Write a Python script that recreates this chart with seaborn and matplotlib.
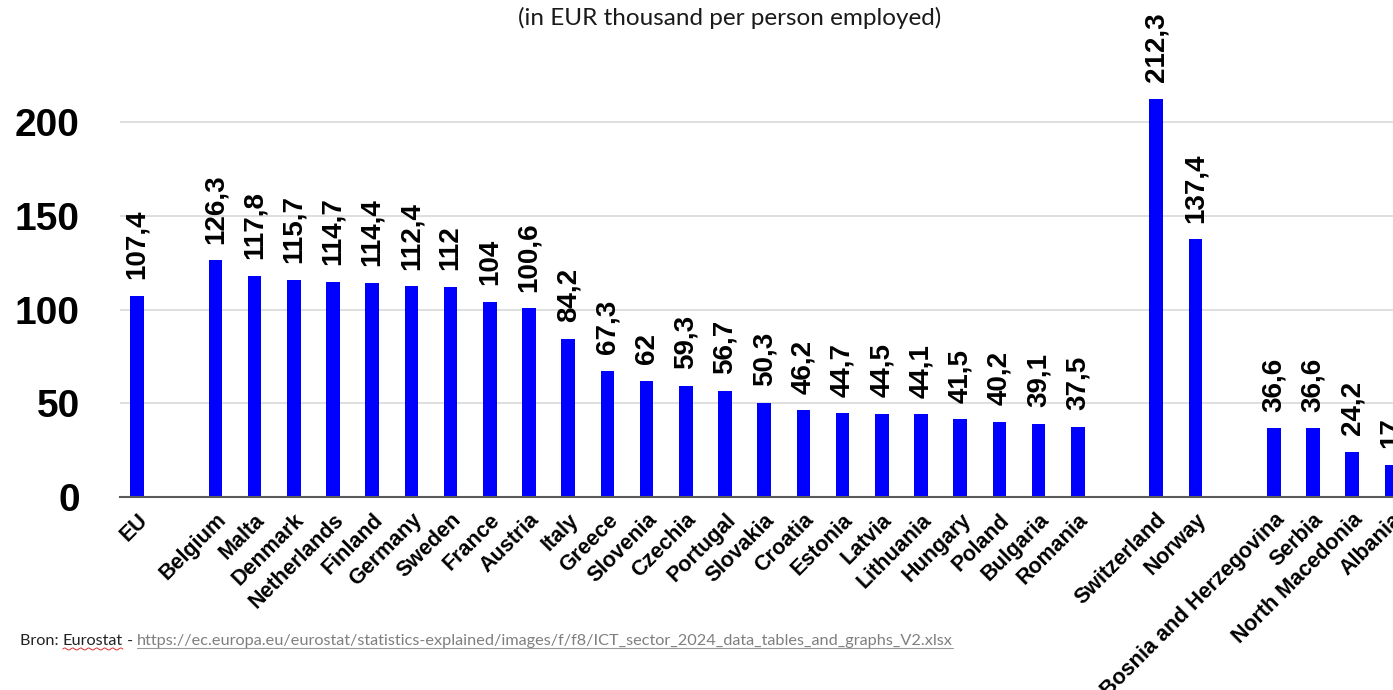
import matplotlib
matplotlib.use("Agg")
import matplotlib.pyplot as plt
import seaborn as sns
import pandas as pd
import numpy as np
from matplotlib.lines import Line2D

# ---- data ----
eu_names = ["EU"]
eu_values = [107.4]
ms_names = ["Belgium", "Malta", "Denmark", "Netherlands", "Finland", "Germany",
            "Sweden", "France", "Austria", "Italy", "Greece", "Slovenia", "Czechia",
            "Portugal", "Slovakia", "Croatia", "Estonia", "Latvia", "Lithuania",
            "Hungary", "Poland", "Bulgaria", "Romania"]
ms_values = [126.3, 117.8, 115.7, 114.7, 114.4, 112.4, 112, 104, 100.6, 84.2,
             67.3, 62, 59.3, 56.7, 50.3, 46.2, 44.7, 44.5, 44.1, 41.5, 40.2, 39.1, 37.5]
efta_names = ["Switzerland", "Norway"]
efta_values = [212.3, 137.4]
cand_names = ["Bosnia and Herzegovina", "Serbia", "North Macedonia", "Albania"]
cand_values = [36.6, 36.6, 24.2, 17]
y_ticks = [0, 50, 100, 150, 200]

title = "(in EUR thousand per person employed)"
source_parts = ["Bron: ", "Eurostat", " - "]
source_url = "https://ec.europa.eu/eurostat/statistics-explained/images/f/f8/ICT_sector_2024_data_tables_and_graphs_V2.xlsx"

names = eu_names + ms_names + efta_names + cand_names
values = eu_values + ms_values + efta_values + cand_values
df = pd.DataFrame({"country": names, "value": values})

# category order with empty spacer slots between groups
order = eu_names + [" "] + ms_names + ["  "] + efta_names + ["   "] + cand_names


def fmt(v):
    s = f"{v:.1f}".rstrip("0").rstrip(".")
    return s.replace(".", ",")


label_of = {n: fmt(v) for n, v in zip(names, values)}

# ---- figure ----
sns.set_style("white")
plt.rcParams["font.family"] = ["Liberation Sans", "DejaVu Sans"]

W, H = 1393, 690
fig = plt.figure(figsize=(W / 100, H / 100), dpi=100)
x_left, y_zero = 120, 497
px_per_unit = 375 / 200
ax = fig.add_axes([x_left / W, (H - y_zero) / H, 1 - x_left / W, y_zero / H])

sns.barplot(data=df, x="country", y="value", order=order, color="#0000FF",
            width=0.35, saturation=1, errorbar=None, ax=ax, zorder=3)
for p in ax.patches:
    p.set_edgecolor("none")

slot = 39.2
ax.set_xlim(-(137 - x_left) / slot, (W - 137) / slot)
ax.set_ylim(0, y_zero / px_per_unit)

ax.set_yticks(y_ticks)
ax.set_yticklabels([str(t) for t in y_ticks], fontsize=28, fontweight="bold",
                   color="black")
ax.yaxis.grid(True, color="#d9d9d9", linewidth=1.2, zorder=0)
ax.set_axisbelow(True)

ax.set_xticks(range(len(order)))
ax.set_xticklabels(order, rotation=45, ha="right", rotation_mode="anchor",
                   fontsize=15.5, fontweight="bold", color="black")
ax.tick_params(axis="x", length=0, pad=9)
ax.tick_params(axis="y", length=0, pad=29)
ax.set_xlabel("")
ax.set_ylabel("")

for s in ["top", "right", "left"]:
    ax.spines[s].set_visible(False)
ax.spines["bottom"].set_color("#595959")
ax.spines["bottom"].set_linewidth(1.5)
ax.spines["bottom"].set_zorder(4)

# value labels
for cont in ax.containers:
    labs = []
    for bar in cont:
        idx = int(round(bar.get_x() + bar.get_width() / 2))
        labs.append(label_of.get(order[idx], ""))
    ax.bar_label(cont, labels=labs, rotation=90, padding=12, fontsize=20,
                 fontweight="bold", color="black")

# title
fig.text(730 / W, 1 - 18 / H, title, ha="center", va="center",
         fontsize=17.5, family=["Lato", "DejaVu Sans"], color="#1a1a1a")

# source line
src_font = dict(fontsize=11.7, family=["Lato", "DejaVu Sans"])
base_y = 1 - 645 / H
fig.canvas.draw()
r = fig.canvas.get_renderer()
x_cur = 20
extents = []
for part in source_parts:
    t = fig.text(x_cur / W, base_y, part, ha="left", va="baseline",
                 color="#222222", **src_font)
    bb = t.get_window_extent(r)
    extents.append(bb)
    x_cur = bb.x1
t_url = fig.text(x_cur / W, base_y, source_url, ha="left", va="baseline",
                 color="#7f7f7f", **src_font)
bb_url = t_url.get_window_extent(r)
base_px = base_y * H
uy = (base_px - 3) / H
fig.add_artist(Line2D([bb_url.x0 / W, bb_url.x1 / W], [uy, uy], color="#9a9a9a",
                      linewidth=0.8, transform=fig.transFigure))
# spell-check squiggle under "Eurostat"
bb_e = extents[1]
xs = np.linspace(bb_e.x0, bb_e.x1, 80)
ys = base_px - 4 + 1.0 * np.sin((xs - bb_e.x0) / 4.0 * 2 * np.pi / 1.0 * 0.5)
fig.add_artist(Line2D(xs / W, ys / H, color="#e03030", linewidth=0.7,
                      transform=fig.transFigure))

fig.savefig("out.png", dpi=100)
